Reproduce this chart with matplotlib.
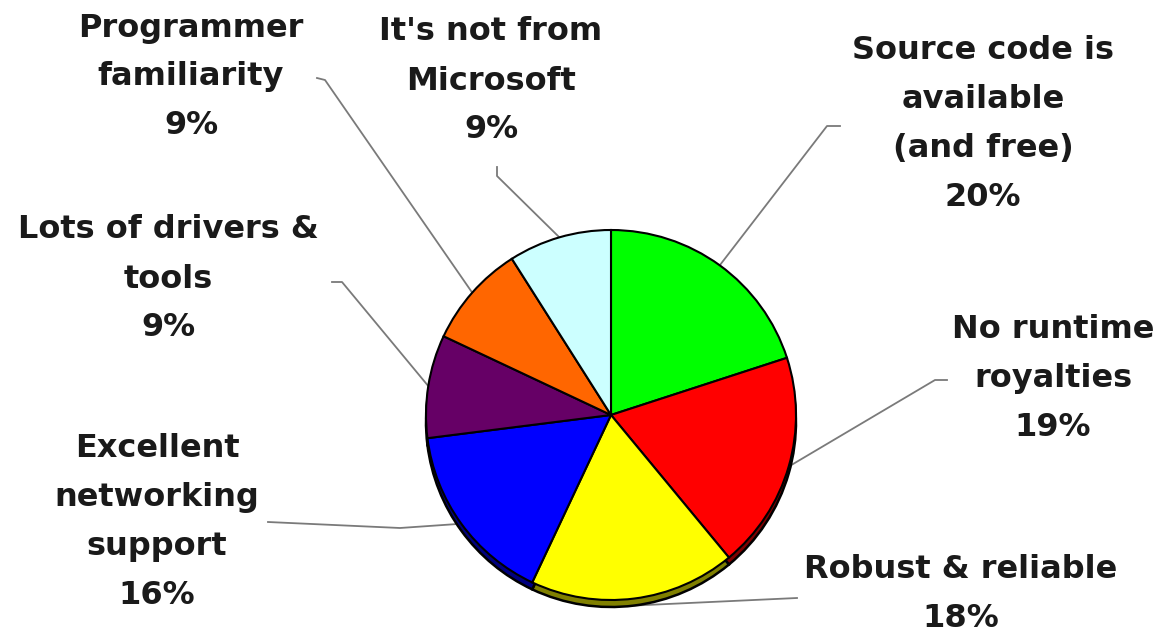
import numpy as np
import matplotlib
matplotlib.use("Agg")
import matplotlib.pyplot as plt

# Reasons for choosing the platform (share of responses, %)
labels = [
    "Source code is\navailable\n(and free)",
    "No runtime\nroyalties",
    "Robust & reliable",
    "Excellent\nnetworking\nsupport",
    "Lots of drivers &\ntools",
    "Programmer\nfamiliarity",
    "It's not from\nMicrosoft",
]
shares = [20, 19, 18, 16, 9, 9, 9]
colors = ["#00ff00", "#ff0000", "#ffff00", "#0000ff", "#660066", "#ff6600", "#ccffff"]
side_colors = ["#008000", "#800000", "#808000", "#000080", "#330033", "#803300", "#668080"]

W, H = 1158, 634
CX, CY, R = 611, H - 415, 185
DEPTH = 7

# label anchor (text centre) and leader elbow points, in pixels from the top-left
label_pos = [(983, 124), (1053, 379), (961, 594), (157, 522), (168, 279), (191, 77), (491, 81)]
leader_path = [
    [(827, 126), (840, 126)],
    [(935, 380), (947, 380)],
    [(797, 598)],
    [(400, 528), (268, 522)],
    [(342, 282), (332, 282)],
    [(325, 80), (317, 78)],
    [(497, 176), (497, 167)],
]

fig = plt.figure(figsize=(W / 100, H / 100), dpi=100)
ax = fig.add_axes([0, 0, 1, 1])

# side of the slightly tilted pie: same wedges dropped a few pixels
ax.pie(shares, colors=side_colors, startangle=90, counterclock=False,
       center=(CX, CY - DEPTH), radius=R,
       wedgeprops=dict(edgecolor="black", linewidth=1.8), frame=True)
wedges, _ = ax.pie(shares, colors=colors, startangle=90, counterclock=False,
                   center=(CX, CY), radius=R,
                   wedgeprops=dict(edgecolor="black", linewidth=1.5), frame=True)

for w, lab, share, (tx, ty), path in zip(wedges, labels, shares, label_pos, leader_path):
    mid = np.deg2rad((w.theta1 + w.theta2) / 2)
    edge_x = CX + R * np.cos(mid)
    edge_y = CY + R * np.sin(mid)
    if np.sin(mid) < -0.9:
        edge_y -= DEPTH
    xs = [edge_x] + [p[0] for p in path]
    ys = [edge_y] + [H - p[1] for p in path]
    ax.plot(xs, ys, color="#7a7a7a", lw=1.3, zorder=0)
    ax.text(tx, H - ty, f"{lab}\n{share}%", ha="center", va="center",
            multialignment="center", fontsize=23, fontweight="bold",
            family="DejaVu Sans", color="#1a1a1a", linespacing=1.75)

ax.set_xlim(0, W)
ax.set_ylim(0, H)
ax.set_aspect("auto")
ax.axis("off")

fig.savefig("out.png", dpi=100)
